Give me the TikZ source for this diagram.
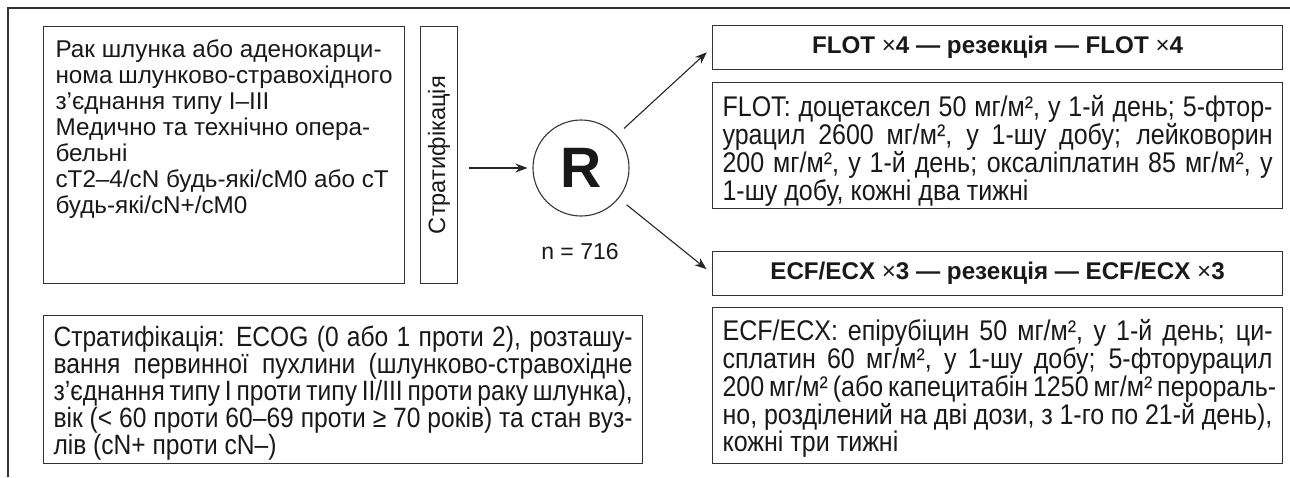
\documentclass[tikz,border=0pt]{standalone}
\usepackage{fontspec}
\usepackage{graphicx}
\setmainfont{Liberation Sans}
\newfontfamily\condf{Liberation Sans}[FakeStretch=0.88]
\usetikzlibrary{arrows.meta}
\newlength\calw
\newcommand\calibfont[3]{\settowidth\calw{\fontsize{10pt}{12pt}\selectfont #3}\pgfmathsetmacro#1{10*#2/\calw}}
\newcommand\calibcond[3]{\settowidth\calw{\condf\fontsize{10pt}{12pt}\selectfont #3}\pgfmathsetmacro#1{10*#2/\calw}}
\newcommand\calibfontbf[3]{\settowidth\calw{\fontsize{10pt}{12pt}\selectfont\bfseries #3}\pgfmathsetmacro#1{10*#2/\calw}}
\newcommand\jl[1]{{\spaceskip=.27em plus .6em minus .1em\makebox[\linewidth][s]{#1}}\\}
\newcommand\fs[2]{\fontsize{#1pt}{#2pt}\selectfont}
\begin{document}%
\calibfont\fA{338}{нома шлунково-стравохідного}%
\calibfont\fS{158}{Стратифікація}%
\calibfontbf\fT{371}{FLOT {\mdseries ×}4 — резекція — FLOT {\mdseries ×}4}%
\calibcond\fF{306}{1-шу добу, кожні два тижні}%
\calibcond\fB{223}{лів (cN+ проти cN–)}%
\begin{tikzpicture}[x=1pt,y=-1pt,
  every node/.style={text=black!90},
  box/.style={draw=black!80, line width=1.1pt, inner sep=0pt, anchor=north west},
  arr/.style={draw=black!85, line width=1.1pt, -{Stealth[length=12pt,width=9pt]}}]
\useasboundingbox (0,0) rectangle (1290,477);
\draw[draw=black!80, line width=1.3pt] (8,477) -- (8,8) -- (1290,8);

\node[box, inner xsep=12pt] (incl) at (43,26) {\parbox[c][257pt][t]{337pt}{\fs{\fA}{26}\rule{0pt}{31pt}Рак шлунка або аденокарци-\\
нома шлунково-стравохідного\\
з’єднання типу I–III\\
Медично та технічно опера-\\
бельні\\
cT2–4/cN будь-які/cM0 або cT\\
будь-які/cN+/cM0}};

\node[box, minimum width=37pt, minimum height=257pt] (strat) at (420,26) {\rotatebox{90}{\fs{\fS}{\fS}Стратифікація}};

\node[circle, draw=black!80, line width=1.1pt, minimum size=96pt, inner sep=0pt] (R) at (581,168) {\fs{57}{57}\bfseries R};
\node (n) at (580,252) {\fs{23}{23}n = 716};

\node[box, minimum width=570pt, minimum height=44pt] (flot) at (712,25) {\fs{\fT}{\fT}\bfseries FLOT {\mdseries ×}4 — резекція — FLOT {\mdseries ×}4};
\node[box, minimum width=570pt, minimum height=44pt] (ecf) at (712,251) {\fs{\fT}{\fT}\bfseries ECF/ECX {\mdseries ×}3 — резекція — ECF/ECX {\mdseries ×}3};

\node[box, inner xsep=10pt] (flotd) at (712,82) {\parbox[c][126pt][t]{550pt}{\condf\fs{\fF}{23.5}%
\jl{\rule{0pt}{34pt}FLOT: доцетаксел 50 мг/м², у 1-й день; 5-фтор-}%
\jl{урацил 2600 мг/м², у 1-шу добу; лейковорин}%
\jl{200 мг/м², у 1-й день; оксаліплатин 85 мг/м², у}%
1-шу добу, кожні два тижні}};

\node[box, inner xsep=10pt] (ecfd) at (712,307) {\parbox[c][156pt][t]{550pt}{\condf\fs{\fF}{23.5}%
\jl{\rule{0pt}{33pt}ECF/ECX: епірубіцин 50 мг/м², у 1-й день; ци-}%
\jl{сплатин 60 мг/м², у 1-шу добу; 5-фторурацил}%
\jl{200 мг/м² (або капецитабін 1250 мг/м² перораль-}%
\jl{но, розділений на дві дози, з 1-го по 21-й день),}%
кожні три тижні}};

\node[box, inner xsep=10pt] (strd) at (43,315) {\parbox[c][148pt][t]{579pt}{\condf\fs{\fB}{23.5}%
\jl{\rule{0pt}{31pt}Стратифікація: ECOG (0 або 1 проти 2), розташу-}%
\jl{вання первинної пухлини (шлунково-стравохідне}%
\jl{з’єднання типу I проти типу II/III проти раку шлунка),}%
\jl{вік (< 60 проти 60–69 проти ≥ 70 років) та стан вуз-}%
лів (cN+ проти cN–)}};

\draw[arr, shorten <=11pt, shorten >=5pt] (strat.east |- R.west) -- (R.west);
\draw[arr, shorten <=10pt, shorten >=7pt] (R) -- (flot.west);
\draw[arr, shorten <=10pt, shorten >=7pt] (R) -- (ecf.west);
\end{tikzpicture}%
\end{document}
